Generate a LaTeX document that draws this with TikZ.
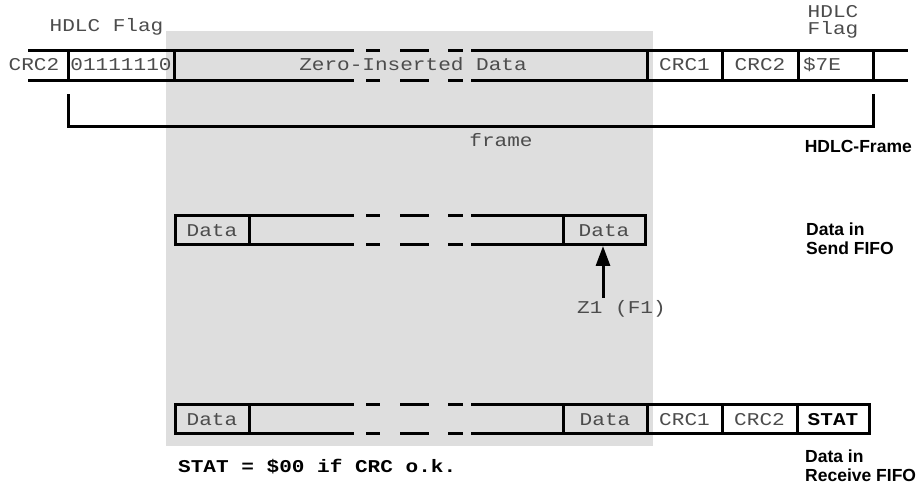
\documentclass[tikz,border=0pt]{standalone}
\usepackage{fontspec}
\newfontfamily\codefont[FakeStretch=1.17]{Liberation Mono}
\newfontfamily\tagfont{Liberation Sans}
\usetikzlibrary{arrows.meta}

\tikzset{
  rowline/.style={line width=3pt, line cap=rect},
  field/.style={inner sep=0pt, anchor=base, text=black!70,
    font=\codefont\fontsize{18}{18}\selectfont},
  boldfield/.style={field, text=black, font=\codefont\bfseries\fontsize{18}{18}\selectfont},
  sidetag/.style={inner sep=0pt, align=left, anchor=north west,
    font=\tagfont\bfseries\fontsize{17.5}{19}\selectfont},
}

\begin{document}
\begin{tikzpicture}[x=1pt, y=-1pt]
  \useasboundingbox (0,0) rectangle (918,486);

  % Draw the shaded area
  \fill[black!13] (166,31) rectangle (653,446);

  % Draw the HDLC frame
  \draw[rowline] (29,51) -- (352,51) (29,81) -- (352,81);
  \draw[rowline] (472,51) -- (906,51) (472,81) -- (906,81);
  \foreach \a/\b in {367/378, 401/427, 449/461}
    \draw[rowline] (\a,51) -- (\b,51) (\a,81) -- (\b,81);
  \foreach \x in {68, 174, 647, 722, 798, 873}
    \draw[rowline] (\x,51) -- (\x,81);

  \node[field] (crcprev) at (34,71) {CRC2};
  \node[field] (flagopen) at (121,71) {01111110};
  \node[field] (zdata) at (413,71) {Zero-Inserted Data};
  \node[field] (crcone) at (684.5,71) {CRC1};
  \node[field] (crctwo) at (760,71) {CRC2};
  \node[field] (flagclose) at (822,71) {\$7E};

  \node[field] (flagname) at (106.5,32) {HDLC Flag};
  \node[field, anchor=north, align=center, font=\codefont\fontsize{18}{17}\selectfont]
    (flagclosename) at (833,5) {HDLC\\Flag};

  % Draw the frame bracket
  \draw[rowline] (68,96) -- (68,127) -- (873,127) -- (873,96);
  \node[field] (framename) at (501,147) {frame};
  \node[sidetag, anchor=base east] (frametag) at (912,153) {HDLC-Frame};

  % Draw the send FIFO
  \draw[rowline] (352,216) -- (175,216) -- (175,245) -- (352,245);
  \draw[rowline] (472,216) -- (645,216) -- (645,245) -- (472,245);
  \foreach \a/\b in {367/378, 401/427, 449/461}
    \draw[rowline] (\a,216) -- (\b,216) (\a,245) -- (\b,245);
  \foreach \x in {249, 563}
    \draw[rowline] (\x,216) -- (\x,245);

  \node[field] (sendfirst) at (212,237) {Data};
  \node[field] (sendlast) at (604,237) {Data};
  \node[sidetag] (sendtag) at (806,223) {Data in\\Send FIFO};

  % Draw the pointer
  \node[field, anchor=base west] (zpointer) at (577,313) {Z1 (F1)};
  \coordinate (zfoot) at (603,298);
  \coordinate (zhead) at (603,246);
  \draw[line width=3pt, -{Triangle[width=14pt, length=20pt]}] (zfoot) -- (zhead);

  % Draw the receive FIFO
  \draw[rowline] (352,404) -- (175,404) -- (175,433) -- (352,433);
  \draw[rowline] (472,404) -- (869,404) -- (869,433) -- (472,433);
  \foreach \a/\b in {367/378, 401/427, 449/461}
    \draw[rowline] (\a,404) -- (\b,404) (\a,433) -- (\b,433);
  \foreach \x in {249, 563, 647, 722, 797}
    \draw[rowline] (\x,404) -- (\x,433);

  \node[field] (recvfirst) at (212,425) {Data};
  \node[field] (recvlast) at (605,425) {Data};
  \node[field] (recvcrcone) at (684.5,425) {CRC1};
  \node[field] (recvcrctwo) at (759.5,425) {CRC2};
  \node[boldfield] (recvstat) at (833,425) {STAT};
  \node[boldfield, anchor=base west] (statnote) at (178,472) {STAT = \$00 if CRC o.k.};
  \node[sidetag] (recvtag) at (805,450) {Data in\\Receive FIFO};
\end{tikzpicture}
\end{document}
